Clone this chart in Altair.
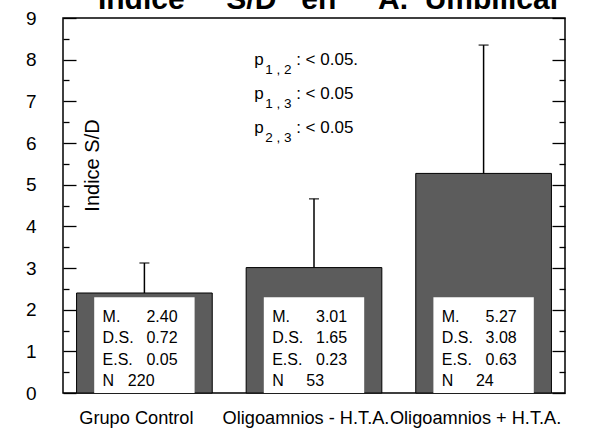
import altair as alt
import pandas as pd

# Valores del índice S/D en arteria umbilical por grupo
grupos = ["Grupo Control", "Oligoamnios - H.T.A.", "Oligoamnios + H.T.A."]
medias = [2.40, 3.01, 5.27]
desv = [0.72, 1.65, 3.08]
errores = [0.05, 0.23, 0.63]
casos = [220, 53, 24]

# Comparaciones entre grupos
pares = ["1 , 2", "1 , 3", "2 , 3"]
umbrales = ["< 0.05.", "< 0.05", "< 0.05"]

# Marcas del eje vertical
y_mayores = list(range(10))
y_menores = [0.5, 1.5, 2.5, 3.5, 4.5, 5.5, 6.5, 7.5, 8.5]

W, H = 502, 375
FONT = "Liberation Sans"

df = pd.DataFrame({"grupo": grupos, "media": medias, "ds": desv, "es": errores, "n": casos})
df["m_txt"] = [f"{v:.2f}" for v in medias]
df["ds_txt"] = [f"{v:.2f}" for v in desv]
df["es_txt"] = [f"{v:.2f}" for v in errores]
df["n_txt"] = [str(v) for v in casos]

pdf = pd.DataFrame({"grupo": [grupos[1]] * len(pares), "fila": list(range(len(pares))),
                    "sub": pares, "umbral": [": " + u for u in umbrales]})

y_scale = alt.Scale(domain=[0, 9], nice=False, zero=True)
x_sort = grupos
x_scale = alt.Scale(paddingInner=0.2, paddingOuter=0.08)

x_axis = alt.Axis(
    title=None, labelFont=FONT, labelFontSize=18.2, labelAngle=0, labelPadding=16,
    ticks=False, domain=False, labelOverlap=False, labelOffset=-8, labelColor="black",
    labelLimit=400,
)
y_axis = alt.Axis(
    values=y_mayores, ticks=False, domain=False, grid=False,
    labelFont=FONT, labelFontSize=19, labelPadding=27, labelColor="black",
    labelFlush=False, labelBound=False,
    title="Indice S/D", titleFont=FONT, titleFontSize=20, titleFontWeight="normal",
    titleAngle=270, titleX=29, titleY=147, titleAlign="center", titleBaseline="middle",
    titleColor="black",
)

base = alt.Chart(df)
x_band = alt.X("grupo:N", sort=x_sort, scale=x_scale, axis=x_axis)
x_start = alt.X("grupo:N", sort=x_sort, scale=x_scale, bandPosition=0, axis=x_axis)

capas = []

barras = base.mark_bar(fill="#5c5c5c", stroke="black", strokeWidth=1).encode(
    x=x_band, y=alt.Y("media:Q", scale=y_scale, axis=y_axis)
)
capas.append(barras)

# recuadro blanco con los estadísticos
capas.append(base.mark_bar(fill="white", width=alt.RelativeBandSize(0.74)).encode(
    x=x_band, y=alt.YDatum(2.3, axis=None)
))

con_tope = base.transform_calculate(tope="datum.media + datum.ds")
capas.append(con_tope.mark_rule(color="black", strokeWidth=1.5).encode(
    x=x_band, y=alt.Y("media:Q", axis=None), y2="tope:Q"
))
capas.append(con_tope.mark_tick(color="black", size=10, thickness=1.5, orient="horizontal").encode(
    x=x_band, y=alt.Y("tope:Q", axis=None)
))

# estadísticos: etiqueta a la izquierda, cifra alineada a la derecha
texto = dict(font=FONT, fontSize=16, baseline="middle", color="black")
filas = [("M.", "m_txt", 101), ("D.S.", "ds_txt", 101), ("E.S.", "es_txt", 101), ("N", "n_txt", 78)]
for i, (etiqueta, campo, dx_valor) in enumerate(filas):
    dy = round(i * 21.3, 1)
    capas.append(base.mark_text(align="left", dx=26, dy=dy, **texto).encode(
        x=x_start, y=alt.YDatum(1.82, axis=None), text=alt.value(etiqueta)
    ))
    capas.append(base.mark_text(align="right", dx=dx_valor, dy=dy, **texto).encode(
        x=x_start, y=alt.YDatum(1.82, axis=None), text=alt.Text(f"{campo}:N")
    ))

# niveles de significación
pbase = alt.Chart(pdf)
ptexto = dict(font=FONT, baseline="alphabetic", align="left", color="black")
for i in range(len(pares)):
    fila = pbase.transform_filter(f"datum.fila == {i}")
    dy = i * 34
    capas.append(fila.mark_text(dx=8, dy=dy, fontSize=17, **ptexto).encode(
        x=x_start, y=alt.YDatum(7.87, axis=None), text=alt.value("p")
    ))
    capas.append(fila.mark_text(dx=19, dy=dy + 9, fontSize=13.5, **ptexto).encode(
        x=x_start, y=alt.YDatum(7.87, axis=None), text="sub:N"
    ))
    capas.append(fila.mark_text(dx=50, dy=dy, fontSize=17, **ptexto).encode(
        x=x_start, y=alt.YDatum(7.87, axis=None), text="umbral:N"
    ))


def marcas(valores_y, orient, largo):
    return alt.Chart(pd.DataFrame({"v": valores_y})).mark_point(opacity=0).encode(
        y=alt.Y("v:Q", scale=y_scale, axis=alt.Axis(
            orient=orient, offset=-W, values=valores_y, labels=False, domain=False,
            grid=False, ticks=True, tickSize=largo, tickColor="black", tickWidth=1.3,
            title=None,
        ))
    )


# marcas interiores en ambos lados del marco
capas += [
    marcas(y_mayores, "right", 13),
    marcas(y_menores, "right", 6),
    marcas(y_mayores, "left", 13),
    marcas(y_menores, "left", 6),
]

titulo = alt.TitleParams(
    "Indice\u00a0\u00a0\u00a0\u00a0\u00a0S/D\u00a0\u00a0\u00a0en\u00a0\u00a0\u00a0\u00a0\u00a0A.\u00a0\u00a0Umbilical",
    font=FONT, fontSize=30, fontWeight="bold", anchor="middle", dx=14, dy=19,
    baseline="alphabetic", offset=-11, color="black",
)

chart = alt.layer(*capas).resolve_scale(y="shared").resolve_axis(y="independent").properties(
    width=W, height=H, title=titulo,
    autosize=alt.AutoSizeParams(type="none"),
    padding={"left": 63, "top": 18, "right": 24, "bottom": 41},
).configure_view(stroke="black", strokeWidth=1.5)

chart.save("out.html", embed_options={"renderer": "svg", "actions": False})
